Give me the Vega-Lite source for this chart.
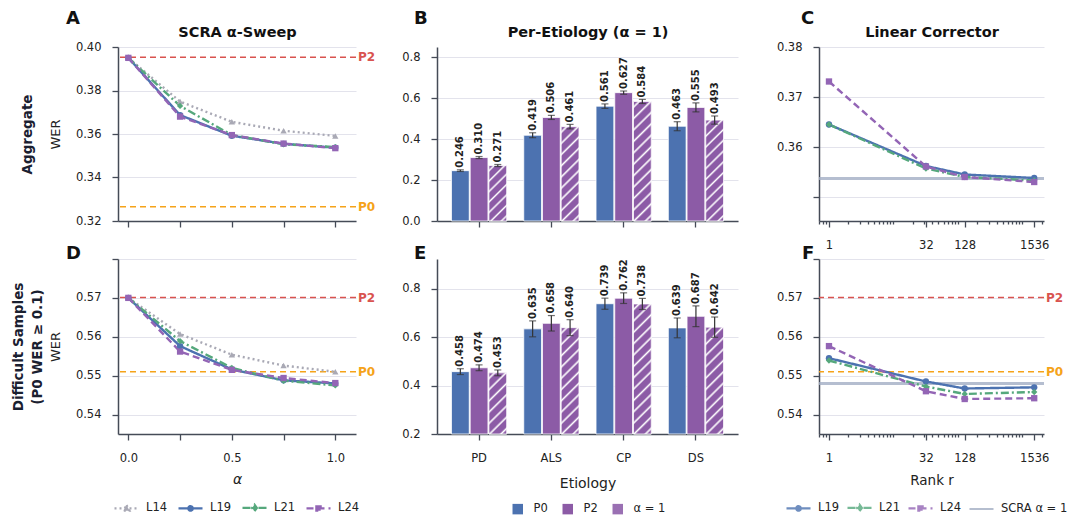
{
  "$schema": "https://vega.github.io/schema/vega-lite/v6.json",
  "background": "white",
  "padding": {"left": 11, "top": 10, "right": 2, "bottom": 0},
  "datasets": {
    "sweep": [
      {"group": "Aggregate", "series": "L14", "alpha": 0, "wer": 0.395},
      {"group": "Aggregate", "series": "L14", "alpha": 0.25, "wer": 0.3749},
      {"group": "Aggregate", "series": "L14", "alpha": 0.5, "wer": 0.3656},
      {"group": "Aggregate", "series": "L14", "alpha": 0.75, "wer": 0.3615},
      {"group": "Aggregate", "series": "L14", "alpha": 1, "wer": 0.3591},
      {"group": "Aggregate", "series": "L19", "alpha": 0, "wer": 0.395},
      {"group": "Aggregate", "series": "L19", "alpha": 0.25, "wer": 0.3687},
      {"group": "Aggregate", "series": "L19", "alpha": 0.5, "wer": 0.3592},
      {"group": "Aggregate", "series": "L19", "alpha": 0.75, "wer": 0.3555},
      {"group": "Aggregate", "series": "L19", "alpha": 1, "wer": 0.3537},
      {"group": "Aggregate", "series": "L21", "alpha": 0, "wer": 0.395},
      {"group": "Aggregate", "series": "L21", "alpha": 0.25, "wer": 0.3729},
      {"group": "Aggregate", "series": "L21", "alpha": 0.5, "wer": 0.3595},
      {"group": "Aggregate", "series": "L21", "alpha": 0.75, "wer": 0.3553},
      {"group": "Aggregate", "series": "L21", "alpha": 1, "wer": 0.354},
      {"group": "Aggregate", "series": "L24", "alpha": 0, "wer": 0.395},
      {"group": "Aggregate", "series": "L24", "alpha": 0.25, "wer": 0.368},
      {"group": "Aggregate", "series": "L24", "alpha": 0.5, "wer": 0.3595},
      {"group": "Aggregate", "series": "L24", "alpha": 0.75, "wer": 0.3556},
      {"group": "Aggregate", "series": "L24", "alpha": 1, "wer": 0.3535},
      {"group": "Difficult", "series": "L14", "alpha": 0, "wer": 0.570},
      {"group": "Difficult", "series": "L14", "alpha": 0.25, "wer": 0.5607},
      {"group": "Difficult", "series": "L14", "alpha": 0.5, "wer": 0.5554},
      {"group": "Difficult", "series": "L14", "alpha": 0.75, "wer": 0.5526},
      {"group": "Difficult", "series": "L14", "alpha": 1, "wer": 0.551},
      {"group": "Difficult", "series": "L19", "alpha": 0, "wer": 0.570},
      {"group": "Difficult", "series": "L19", "alpha": 0.25, "wer": 0.5576},
      {"group": "Difficult", "series": "L19", "alpha": 0.5, "wer": 0.5516},
      {"group": "Difficult", "series": "L19", "alpha": 0.75, "wer": 0.5488},
      {"group": "Difficult", "series": "L19", "alpha": 1, "wer": 0.548},
      {"group": "Difficult", "series": "L21", "alpha": 0, "wer": 0.570},
      {"group": "Difficult", "series": "L21", "alpha": 0.25, "wer": 0.5589},
      {"group": "Difficult", "series": "L21", "alpha": 0.5, "wer": 0.552},
      {"group": "Difficult", "series": "L21", "alpha": 0.75, "wer": 0.5487},
      {"group": "Difficult", "series": "L21", "alpha": 1, "wer": 0.5475},
      {"group": "Difficult", "series": "L24", "alpha": 0, "wer": 0.570},
      {"group": "Difficult", "series": "L24", "alpha": 0.25, "wer": 0.5562},
      {"group": "Difficult", "series": "L24", "alpha": 0.5, "wer": 0.5515},
      {"group": "Difficult", "series": "L24", "alpha": 0.75, "wer": 0.5494},
      {"group": "Difficult", "series": "L24", "alpha": 1, "wer": 0.5481}
    ],
    "rank": [
      {"group": "Aggregate", "series": "L19", "rank": 1, "wer": 0.3645},
      {"group": "Aggregate", "series": "L19", "rank": 32, "wer": 0.3562},
      {"group": "Aggregate", "series": "L19", "rank": 128, "wer": 0.3545},
      {"group": "Aggregate", "series": "L19", "rank": 1536, "wer": 0.3538},
      {"group": "Aggregate", "series": "L21", "rank": 1, "wer": 0.3645},
      {"group": "Aggregate", "series": "L21", "rank": 32, "wer": 0.3557},
      {"group": "Aggregate", "series": "L21", "rank": 128, "wer": 0.354},
      {"group": "Aggregate", "series": "L21", "rank": 1536, "wer": 0.3533},
      {"group": "Aggregate", "series": "L24", "rank": 1, "wer": 0.3731},
      {"group": "Aggregate", "series": "L24", "rank": 32, "wer": 0.3561},
      {"group": "Aggregate", "series": "L24", "rank": 128, "wer": 0.354},
      {"group": "Aggregate", "series": "L24", "rank": 1536, "wer": 0.353},
      {"group": "Difficult", "series": "L19", "rank": 1, "wer": 0.5545},
      {"group": "Difficult", "series": "L19", "rank": 32, "wer": 0.5485},
      {"group": "Difficult", "series": "L19", "rank": 128, "wer": 0.5467},
      {"group": "Difficult", "series": "L19", "rank": 1536, "wer": 0.547},
      {"group": "Difficult", "series": "L21", "rank": 1, "wer": 0.5539},
      {"group": "Difficult", "series": "L21", "rank": 32, "wer": 0.5472},
      {"group": "Difficult", "series": "L21", "rank": 128, "wer": 0.5453},
      {"group": "Difficult", "series": "L21", "rank": 1536, "wer": 0.5458},
      {"group": "Difficult", "series": "L24", "rank": 1, "wer": 0.5576},
      {"group": "Difficult", "series": "L24", "rank": 32, "wer": 0.546},
      {"group": "Difficult", "series": "L24", "rank": 128, "wer": 0.544},
      {"group": "Difficult", "series": "L24", "rank": 1536, "wer": 0.5442}
    ],
    "refs": [
      {"group": "Aggregate", "label": "P2", "wer": 0.3953},
      {"group": "Aggregate", "label": "P0", "wer": 0.3266},
      {"group": "Difficult", "label": "P2", "wer": 0.5701},
      {"group": "Difficult", "label": "P0", "wer": 0.551}
    ],
    "scra": [
      {"group": "Aggregate", "series": "SCRA α = 1", "wer": 0.3537},
      {"group": "Difficult", "series": "SCRA α = 1", "wer": 0.548}
    ],
    "etiology": [
      {"group": "Aggregate", "etiology": "PD", "cond": "P0", "wer": 0.246, "lo": 0.242, "hi": 0.250},
      {"group": "Aggregate", "etiology": "PD", "cond": "P2", "wer": 0.310, "lo": 0.305, "hi": 0.315},
      {"group": "Aggregate", "etiology": "PD", "cond": "α = 1", "wer": 0.271, "lo": 0.266, "hi": 0.276},
      {"group": "Aggregate", "etiology": "ALS", "cond": "P0", "wer": 0.419, "lo": 0.407, "hi": 0.431},
      {"group": "Aggregate", "etiology": "ALS", "cond": "P2", "wer": 0.506, "lo": 0.496, "hi": 0.516},
      {"group": "Aggregate", "etiology": "ALS", "cond": "α = 1", "wer": 0.461, "lo": 0.450, "hi": 0.472},
      {"group": "Aggregate", "etiology": "CP", "cond": "P0", "wer": 0.561, "lo": 0.550, "hi": 0.572},
      {"group": "Aggregate", "etiology": "CP", "cond": "P2", "wer": 0.627, "lo": 0.619, "hi": 0.635},
      {"group": "Aggregate", "etiology": "CP", "cond": "α = 1", "wer": 0.584, "lo": 0.574, "hi": 0.594},
      {"group": "Aggregate", "etiology": "DS", "cond": "P0", "wer": 0.463, "lo": 0.441, "hi": 0.485},
      {"group": "Aggregate", "etiology": "DS", "cond": "P2", "wer": 0.555, "lo": 0.533, "hi": 0.577},
      {"group": "Aggregate", "etiology": "DS", "cond": "α = 1", "wer": 0.493, "lo": 0.473, "hi": 0.513},
      {"group": "Difficult", "etiology": "PD", "cond": "P0", "wer": 0.458, "lo": 0.446, "hi": 0.470},
      {"group": "Difficult", "etiology": "PD", "cond": "P2", "wer": 0.474, "lo": 0.462, "hi": 0.486},
      {"group": "Difficult", "etiology": "PD", "cond": "α = 1", "wer": 0.453, "lo": 0.441, "hi": 0.465},
      {"group": "Difficult", "etiology": "ALS", "cond": "P0", "wer": 0.635, "lo": 0.602, "hi": 0.668},
      {"group": "Difficult", "etiology": "ALS", "cond": "P2", "wer": 0.658, "lo": 0.626, "hi": 0.690},
      {"group": "Difficult", "etiology": "ALS", "cond": "α = 1", "wer": 0.640, "lo": 0.607, "hi": 0.673},
      {"group": "Difficult", "etiology": "CP", "cond": "P0", "wer": 0.739, "lo": 0.716, "hi": 0.762},
      {"group": "Difficult", "etiology": "CP", "cond": "P2", "wer": 0.762, "lo": 0.740, "hi": 0.784},
      {"group": "Difficult", "etiology": "CP", "cond": "α = 1", "wer": 0.738, "lo": 0.715, "hi": 0.761},
      {"group": "Difficult", "etiology": "DS", "cond": "P0", "wer": 0.639, "lo": 0.598, "hi": 0.680},
      {"group": "Difficult", "etiology": "DS", "cond": "P2", "wer": 0.687, "lo": 0.644, "hi": 0.730},
      {"group": "Difficult", "etiology": "DS", "cond": "α = 1", "wer": 0.642, "lo": 0.600, "hi": 0.684}
    ]
  },
  "columns": 3,
  "spacing": {"row": 38, "column": 81},
  "bounds": "flush",
  "align": "each",
  "resolve": {
    "scale": {"stroke": "independent", "fill": "independent", "shape": "independent", "strokeDash": "independent", "strokeWidth": "independent"},
    "legend": {"stroke": "independent", "fill": "independent", "shape": "independent", "strokeDash": "independent", "strokeWidth": "independent"}
  },
  "concat": [
    {
      "width": 238, "height": 174,
      "title": {"text": "A", "dx": -52, "offset": -4},
      "resolve": {"axis": {"x": "independent", "y": "independent"}},
      "layer": [
        {
          "data": {"name": "refs"},
          "transform": [{"filter": "datum.group === 'Aggregate'"}],
          "mark": {"type": "rule", "strokeDash": [6, 4], "strokeWidth": 1.5},
          "encoding": {
            "y": {"field": "wer", "type": "quantitative", "scale": {"domain": [0.32, 0.4], "nice": false, "zero": false},
              "axis": {"values": [0.32, 0.34, 0.36, 0.38, 0.4], "format": ".2f", "title": "WER", "titlePadding": 13}},
            "color": {"condition": {"test": "datum.label === 'P2'", "value": "#d9534f"}, "value": "#f5a31a"}
          }
        },
        {
          "data": {"name": "refs"},
          "transform": [{"filter": "datum.group === 'Aggregate'"}],
          "mark": {"type": "text", "align": "left", "baseline": "middle", "dx": 2, "fontSize": 12, "fontWeight": "bold"},
          "encoding": {
            "x": {"value": "width"},
            "y": {"field": "wer", "type": "quantitative", "scale": {"domain": [0.32, 0.4], "nice": false, "zero": false}, "axis": null},
            "text": {"field": "label"},
            "color": {"condition": {"test": "datum.label === 'P2'", "value": "#d9534f"}, "value": "#f5a31a"}
          }
        },
        {
          "data": {"name": "sweep"},
          "transform": [{"filter": "datum.group === 'Aggregate'"}],
          "mark": {"type": "line", "strokeWidth": 2.4},
          "encoding": {
            "x": {"field": "alpha", "type": "quantitative", "scale": {"domain": [-0.05, 1.1], "nice": false, "zero": false},
              "axis": {"values": [0, 0.25, 0.5, 0.75, 1], "labels": false, "title": null}},
            "y": {"field": "wer", "type": "quantitative", "scale": {"domain": [0.32, 0.4], "nice": false, "zero": false},
              "axis": {"orient": "left", "offset": 84, "title": "Aggregate", "titleFontWeight": "bold", "titleFontSize": 13.5, "titleColor": "#1a2030", "titlePadding": 0, "labels": false, "ticks": false, "domain": false, "grid": false}},
            "stroke": {"field": "series", "type": "nominal", "scale": {"domain": ["L14", "L19", "L21", "L24"], "range": ["#a9a9b5", "#4c72b0", "#55a87c", "#9365b5"]}, "legend": null},
            "strokeDash": {"field": "series", "type": "nominal", "scale": {"domain": ["L14", "L19", "L21", "L24"], "range": [[2, 3], [1, 0], [8, 3, 2, 3], [7, 4]]}, "legend": null}
          }
        },
        {
          "data": {"name": "sweep"},
          "transform": [{"filter": "datum.group === 'Aggregate'"}],
          "mark": {"type": "point", "filled": true, "size": 40, "opacity": 1},
          "encoding": {
            "x": {"field": "alpha", "type": "quantitative", "scale": {"domain": [-0.05, 1.1], "nice": false, "zero": false},
              "axis": {"orient": "top", "title": "SCRA α-Sweep", "titleFontSize": 14.5, "titleFontWeight": "bold", "titleColor": "#111", "titlePadding": 8, "labels": false, "ticks": false, "domain": false, "grid": false}},
            "y": {"field": "wer", "type": "quantitative", "scale": {"domain": [0.32, 0.4], "nice": false, "zero": false}, "axis": null},
            "fill": {"field": "series", "type": "nominal", "scale": {"domain": ["L14", "L19", "L21", "L24"], "range": ["#a9a9b5", "#4c72b0", "#55a87c", "#9365b5"]}, "legend": null},
            "shape": {"condition": [{"test": "datum.series === 'L14'", "value": "triangle-up"}, {"test": "datum.series === 'L19'", "value": "circle"}, {"test": "datum.series === 'L21'", "value": "diamond"}], "value": "square"}
          }
        }
      ]
    },
    {
      "width": 301, "height": 174,
      "title": {"text": "B", "dx": -23, "offset": -4},
      "data": {"name": "etiology"},
      "transform": [{"filter": "datum.group === 'Aggregate'"}],
      "resolve": {"axis": {"x": "independent", "y": "independent"}},
      "layer": [
        {
          "mark": {"type": "bar", "stroke": "#ffffff", "strokeWidth": 0.8},
          "encoding": {
            "x": {"field": "etiology", "type": "nominal", "scale": {"domain": ["PD", "ALS", "CP", "DS"], "paddingInner": 0.236, "paddingOuter": 0.2},
              "axis": {"labels": false, "title": null, "grid": false}},
            "xOffset": {"field": "cond", "type": "nominal", "scale": {"domain": ["P0", "P2", "α = 1"], "paddingInner": 0.05}},
            "y": {"field": "wer", "type": "quantitative", "scale": {"domain": [0, 0.85], "nice": false, "zero": false},
              "axis": {"values": [0, 0.2, 0.4, 0.6, 0.8], "format": ".1f", "title": null}},
            "fill": {"field": "cond", "type": "nominal", "scale": {"domain": ["P0", "P2", "α = 1"], "range": ["#4c72b0", "#8c5ba6", "#8c5ba6"]}, "legend": null}
          }
        },
        {
          "transform": [{"filter": "datum.cond === 'α = 1'"}],
          "mark": {"type": "bar", "stroke": "#ffffff", "strokeWidth": 0.8},
          "encoding": {
            "x": {"field": "etiology", "type": "nominal", "axis": null},
            "xOffset": {"field": "cond", "type": "nominal"},
            "y": {"field": "wer", "type": "quantitative", "axis": null},
            "fill": {
              "condition": [
                {"test": "datum.etiology === 'PD'", "value": {"gradient": "linear", "x1": 0, "y1": 0, "x2": 0.379, "y2": 1.197, "stops": [{"offset":0.0429,"color":"#8c5ba6"},{"offset":0.0714,"color":"#fff"},{"offset":0.1,"color":"#8c5ba6"},{"offset":0.1857,"color":"#8c5ba6"},{"offset":0.2143,"color":"#fff"},{"offset":0.2429,"color":"#8c5ba6"},{"offset":0.3286,"color":"#8c5ba6"},{"offset":0.3571,"color":"#fff"},{"offset":0.3857,"color":"#8c5ba6"},{"offset":0.4714,"color":"#8c5ba6"},{"offset":0.5,"color":"#fff"},{"offset":0.5286,"color":"#8c5ba6"},{"offset":0.6143,"color":"#8c5ba6"},{"offset":0.6429,"color":"#fff"},{"offset":0.6714,"color":"#8c5ba6"},{"offset":0.7571,"color":"#8c5ba6"},{"offset":0.7857,"color":"#fff"},{"offset":0.8143,"color":"#8c5ba6"},{"offset":0.9,"color":"#8c5ba6"},{"offset":0.9286,"color":"#fff"},{"offset":0.9571,"color":"#8c5ba6"}]}},
                {"test": "datum.etiology === 'ALS'", "value": {"gradient": "linear", "x1": 0, "y1": 0, "x2": 0.2135, "y2": 1.1465, "stops": [{"offset":0.03,"color":"#8c5ba6"},{"offset":0.05,"color":"#fff"},{"offset":0.07,"color":"#8c5ba6"},{"offset":0.13,"color":"#8c5ba6"},{"offset":0.15,"color":"#fff"},{"offset":0.17,"color":"#8c5ba6"},{"offset":0.23,"color":"#8c5ba6"},{"offset":0.25,"color":"#fff"},{"offset":0.27,"color":"#8c5ba6"},{"offset":0.33,"color":"#8c5ba6"},{"offset":0.35,"color":"#fff"},{"offset":0.37,"color":"#8c5ba6"},{"offset":0.43,"color":"#8c5ba6"},{"offset":0.45,"color":"#fff"},{"offset":0.47,"color":"#8c5ba6"},{"offset":0.53,"color":"#8c5ba6"},{"offset":0.55,"color":"#fff"},{"offset":0.57,"color":"#8c5ba6"},{"offset":0.63,"color":"#8c5ba6"},{"offset":0.65,"color":"#fff"},{"offset":0.67,"color":"#8c5ba6"},{"offset":0.73,"color":"#8c5ba6"},{"offset":0.75,"color":"#fff"},{"offset":0.77,"color":"#8c5ba6"},{"offset":0.83,"color":"#8c5ba6"},{"offset":0.85,"color":"#fff"},{"offset":0.87,"color":"#8c5ba6"},{"offset":0.93,"color":"#8c5ba6"},{"offset":0.95,"color":"#fff"},{"offset":0.97,"color":"#8c5ba6"}]}},
                {"test": "datum.etiology === 'CP'", "value": {"gradient": "linear", "x1": 0, "y1": 0, "x2": 0.165, "y2": 1.1228, "stops": [{"offset":0.025,"color":"#8c5ba6"},{"offset":0.0417,"color":"#fff"},{"offset":0.0583,"color":"#8c5ba6"},{"offset":0.1083,"color":"#8c5ba6"},{"offset":0.125,"color":"#fff"},{"offset":0.1417,"color":"#8c5ba6"},{"offset":0.1917,"color":"#8c5ba6"},{"offset":0.2083,"color":"#fff"},{"offset":0.225,"color":"#8c5ba6"},{"offset":0.275,"color":"#8c5ba6"},{"offset":0.2917,"color":"#fff"},{"offset":0.3083,"color":"#8c5ba6"},{"offset":0.3583,"color":"#8c5ba6"},{"offset":0.375,"color":"#fff"},{"offset":0.3917,"color":"#8c5ba6"},{"offset":0.4417,"color":"#8c5ba6"},{"offset":0.4583,"color":"#fff"},{"offset":0.475,"color":"#8c5ba6"},{"offset":0.525,"color":"#8c5ba6"},{"offset":0.5417,"color":"#fff"},{"offset":0.5583,"color":"#8c5ba6"},{"offset":0.6083,"color":"#8c5ba6"},{"offset":0.625,"color":"#fff"},{"offset":0.6417,"color":"#8c5ba6"},{"offset":0.6917,"color":"#8c5ba6"},{"offset":0.7083,"color":"#fff"},{"offset":0.725,"color":"#8c5ba6"},{"offset":0.775,"color":"#8c5ba6"},{"offset":0.7917,"color":"#fff"},{"offset":0.8083,"color":"#8c5ba6"},{"offset":0.8583,"color":"#8c5ba6"},{"offset":0.875,"color":"#fff"},{"offset":0.8917,"color":"#8c5ba6"},{"offset":0.9417,"color":"#8c5ba6"},{"offset":0.9583,"color":"#fff"},{"offset":0.975,"color":"#8c5ba6"}]}}
              ],
              "value": {"gradient": "linear", "x1": 0, "y1": 0, "x2": 0.198, "y2": 1.1395, "stops": [{"offset":0.0273,"color":"#8c5ba6"},{"offset":0.0455,"color":"#fff"},{"offset":0.0636,"color":"#8c5ba6"},{"offset":0.1182,"color":"#8c5ba6"},{"offset":0.1364,"color":"#fff"},{"offset":0.1545,"color":"#8c5ba6"},{"offset":0.2091,"color":"#8c5ba6"},{"offset":0.2273,"color":"#fff"},{"offset":0.2455,"color":"#8c5ba6"},{"offset":0.3,"color":"#8c5ba6"},{"offset":0.3182,"color":"#fff"},{"offset":0.3364,"color":"#8c5ba6"},{"offset":0.3909,"color":"#8c5ba6"},{"offset":0.4091,"color":"#fff"},{"offset":0.4273,"color":"#8c5ba6"},{"offset":0.4818,"color":"#8c5ba6"},{"offset":0.5,"color":"#fff"},{"offset":0.5182,"color":"#8c5ba6"},{"offset":0.5727,"color":"#8c5ba6"},{"offset":0.5909,"color":"#fff"},{"offset":0.6091,"color":"#8c5ba6"},{"offset":0.6636,"color":"#8c5ba6"},{"offset":0.6818,"color":"#fff"},{"offset":0.7,"color":"#8c5ba6"},{"offset":0.7545,"color":"#8c5ba6"},{"offset":0.7727,"color":"#fff"},{"offset":0.7909,"color":"#8c5ba6"},{"offset":0.8455,"color":"#8c5ba6"},{"offset":0.8636,"color":"#fff"},{"offset":0.8818,"color":"#8c5ba6"},{"offset":0.9364,"color":"#8c5ba6"},{"offset":0.9545,"color":"#fff"},{"offset":0.9727,"color":"#8c5ba6"}]}
            }
          }
        },
        {
          "mark": {"type": "rule", "color": "#333333", "strokeWidth": 1.2},
          "encoding": {
            "x": {"field": "etiology", "type": "nominal", "axis": null},
            "xOffset": {"field": "cond", "type": "nominal"},
            "y": {"field": "lo", "type": "quantitative", "axis": null},
            "y2": {"field": "hi"}
          }
        },
        {
          "mark": {"type": "tick", "color": "#333333", "thickness": 1.2, "size": 7},
          "encoding": {
            "x": {"field": "etiology", "type": "nominal", "axis": null},
            "xOffset": {"field": "cond", "type": "nominal"},
            "y": {"field": "lo", "type": "quantitative", "axis": null}
          }
        },
        {
          "mark": {"type": "tick", "color": "#333333", "thickness": 1.2, "size": 7},
          "encoding": {
            "x": {"field": "etiology", "type": "nominal", "axis": null},
            "xOffset": {"field": "cond", "type": "nominal"},
            "y": {"field": "hi", "type": "quantitative", "axis": null}
          }
        },
        {
          "mark": {"type": "text", "angle": 270, "align": "left", "baseline": "middle", "dx": 2, "fontSize": 10, "fontWeight": "bold", "color": "#222222"},
          "encoding": {
            "x": {"field": "etiology", "type": "nominal",
              "axis": {"orient": "top", "title": "Per-Etiology (α = 1)", "titleFontSize": 14.5, "titleFontWeight": "bold", "titleColor": "#111", "titlePadding": 8, "labels": false, "ticks": false, "domain": false, "grid": false}},
            "xOffset": {"field": "cond", "type": "nominal"},
            "y": {"field": "hi", "type": "quantitative", "axis": null},
            "text": {"field": "wer", "type": "quantitative", "format": ".3f"}
          }
        }
      ]
    },
    {
      "width": 225, "height": 174,
      "title": {"text": "C", "dx": -18, "offset": -4},
      "resolve": {"axis": {"x": "independent", "y": "independent"}},
      "layer": [
        {
          "data": {"name": "scra"},
          "transform": [{"filter": "datum.group === 'Aggregate'"}],
          "mark": {"type": "rule", "strokeWidth": 3, "opacity": 0.8},
          "encoding": {
            "y": {"field": "wer", "type": "quantitative", "scale": {"domain": [0.3452, 0.38], "nice": false, "zero": false},
              "axis": {"values": [0.35, 0.36, 0.37, 0.38], "labelExpr": "datum.value < 0.355 ? '' : format(datum.value, '.2f')", "title": null}},
            "stroke": {"field": "series", "type": "nominal", "scale": {"domain": ["L19", "L21", "L24", "SCRA α = 1"], "range": ["#4c72b0", "#55a87c", "#9365b5", "#a3aec4"]}, "legend": null}
          }
        },
        {
          "data": {"name": "rank"},
          "transform": [{"filter": "datum.group === 'Aggregate'"}],
          "mark": {"type": "line", "strokeWidth": 2.4},
          "encoding": {
            "x": {"field": "rank", "type": "quantitative", "scale": {"type": "log", "domain": [0.7, 2180], "nice": false, "zero": false},
              "axis": {"values": [0.7, 0.8, 0.9, 1, 2, 3, 4, 5, 6, 7, 8, 9, 10, 20, 30, 32, 40, 50, 60, 70, 80, 90, 100, 128, 200, 300, 400, 500, 600, 700, 800, 900, 1000, 1536, 2000],
                "labelExpr": "indexof([1, 32, 128, 1536], datum.value) >= 0 ? format(datum.value, 'd') : ''",
                "tickSize": {"condition": {"test": "indexof([1, 32, 128, 1536], datum.value) >= 0", "value": 6}, "value": 3},
                "labelOverlap": false, "labelFlush": false, "title": null}},
            "y": {"field": "wer", "type": "quantitative", "scale": {"domain": [0.3452, 0.38], "nice": false, "zero": false}, "axis": null},
            "stroke": {"field": "series", "type": "nominal", "scale": {"domain": ["L19", "L21", "L24", "SCRA α = 1"], "range": ["#4c72b0", "#55a87c", "#9365b5", "#a3aec4"]}, "legend": null},
            "strokeDash": {"field": "series", "type": "nominal", "scale": {"domain": ["L19", "L21", "L24", "SCRA α = 1"], "range": [[1, 0], [8, 3, 2, 3], [7, 4], [1, 0]]}, "legend": null}
          }
        },
        {
          "data": {"name": "rank"},
          "transform": [{"filter": "datum.group === 'Aggregate'"}],
          "mark": {"type": "point", "filled": true, "size": 40, "opacity": 1},
          "encoding": {
            "x": {"field": "rank", "type": "quantitative", "scale": {"type": "log", "domain": [0.7, 2180], "nice": false, "zero": false},
              "axis": {"orient": "top", "title": "Linear Corrector", "titleFontSize": 14.5, "titleFontWeight": "bold", "titleColor": "#111", "titlePadding": 8, "labels": false, "ticks": false, "domain": false, "grid": false}},
            "y": {"field": "wer", "type": "quantitative", "scale": {"domain": [0.3452, 0.38], "nice": false, "zero": false}, "axis": null},
            "fill": {"field": "series", "type": "nominal", "scale": {"domain": ["L19", "L21", "L24", "SCRA α = 1"], "range": ["#4c72b0", "#55a87c", "#9365b5", "#a3aec4"]}, "legend": null},
            "shape": {"condition": [{"test": "datum.series === 'L19'", "value": "circle"}, {"test": "datum.series === 'L21'", "value": "diamond"}], "value": "square"}
          }
        }
      ]
    },
    {
      "width": 238, "height": 175,
      "title": {"text": "D", "dx": -52, "offset": -5},
      "resolve": {"axis": {"x": "independent", "y": "independent"}},
      "layer": [
        {
          "data": {"name": "refs"},
          "transform": [{"filter": "datum.group === 'Difficult'"}],
          "mark": {"type": "rule", "strokeDash": [6, 4], "strokeWidth": 1.5},
          "encoding": {
            "y": {"field": "wer", "type": "quantitative", "scale": {"domain": [0.535, 0.58], "nice": false, "zero": false},
              "axis": {"values": [0.54, 0.55, 0.56, 0.57, 0.58], "labelExpr": "datum.value > 0.575 ? '' : format(datum.value, '.2f')", "title": "WER", "titlePadding": 13}},
            "color": {"condition": {"test": "datum.label === 'P2'", "value": "#d9534f"}, "value": "#f5a31a"}
          }
        },
        {
          "data": {"name": "refs"},
          "transform": [{"filter": "datum.group === 'Difficult'"}],
          "mark": {"type": "text", "align": "left", "baseline": "middle", "dx": 2, "fontSize": 12, "fontWeight": "bold"},
          "encoding": {
            "x": {"value": "width"},
            "y": {"field": "wer", "type": "quantitative", "scale": {"domain": [0.535, 0.58], "nice": false, "zero": false}, "axis": null},
            "text": {"field": "label"},
            "color": {"condition": {"test": "datum.label === 'P2'", "value": "#d9534f"}, "value": "#f5a31a"}
          }
        },
        {
          "data": {"name": "sweep"},
          "transform": [{"filter": "datum.group === 'Difficult'"}],
          "mark": {"type": "line", "strokeWidth": 2.4},
          "encoding": {
            "x": {"field": "alpha", "type": "quantitative", "scale": {"domain": [-0.05, 1.1], "nice": false, "zero": false},
              "axis": {"values": [0, 0.25, 0.5, 0.75, 1], "labelExpr": "datum.value === 0 || datum.value === 0.5 || datum.value === 1 ? format(datum.value, '.1f') : ''", "title": "α", "titleFontStyle": "italic", "titleFontSize": 14, "titlePadding": 9}},
            "y": {"field": "wer", "type": "quantitative", "scale": {"domain": [0.535, 0.58], "nice": false, "zero": false},
              "axis": {"orient": "left", "offset": 74, "title": ["Difficult Samples", "(P0 WER ≥ 0.1)"], "titleLineHeight": 19, "titleFontWeight": "bold", "titleFontSize": 13.5, "titleColor": "#1a2030", "titlePadding": 0, "labels": false, "ticks": false, "domain": false, "grid": false}},
            "stroke": {"field": "series", "type": "nominal", "scale": {"domain": ["L14", "L19", "L21", "L24"], "range": ["#a9a9b5", "#4c72b0", "#55a87c", "#9365b5"]},
              "legend": {"orient": "none", "legendX": -5, "legendY": 235, "direction": "horizontal", "title": null, "symbolSize": 576, "symbolStrokeWidth": 2.2, "labelOffset": 6, "columnPadding": 6}},
            "strokeDash": {"field": "series", "type": "nominal", "scale": {"domain": ["L14", "L19", "L21", "L24"], "range": [[2, 3], [1, 0], [8, 3, 2, 3], [7, 4]]},
              "legend": {"orient": "none", "legendX": -5, "legendY": 235, "direction": "horizontal", "title": null, "symbolSize": 576, "symbolStrokeWidth": 2.2, "labelOffset": 6, "columnPadding": 6}}
          }
        },
        {
          "data": {"name": "sweep"},
          "transform": [{"filter": "datum.group === 'Difficult'"}],
          "mark": {"type": "point", "filled": true, "size": 40, "opacity": 1},
          "encoding": {
            "x": {"field": "alpha", "type": "quantitative", "scale": {"domain": [-0.05, 1.1], "nice": false, "zero": false}, "axis": null},
            "y": {"field": "wer", "type": "quantitative", "scale": {"domain": [0.535, 0.58], "nice": false, "zero": false}, "axis": null},
            "fill": {"field": "series", "type": "nominal", "scale": {"domain": ["L14", "L19", "L21", "L24"], "range": ["#a9a9b5", "#4c72b0", "#55a87c", "#9365b5"]},
              "legend": {"orient": "none", "legendX": -5, "legendY": 235, "direction": "horizontal", "title": null, "symbolSize": 576, "symbolStrokeWidth": 2.2, "labelOffset": 6, "columnPadding": 6}},
            "shape": {"condition": [{"test": "datum.series === 'L14'", "value": "triangle-up"}, {"test": "datum.series === 'L19'", "value": "circle"}, {"test": "datum.series === 'L21'", "value": "diamond"}], "value": "square"}
          }
        },
        {
          "data": {"name": "sweep"},
          "transform": [{"filter": "false"}],
          "mark": {"type": "point", "filled": true},
          "encoding": {
            "x": {"field": "alpha", "type": "quantitative", "axis": null},
            "y": {"field": "wer", "type": "quantitative", "axis": null},
            "shape": {"field": "series", "type": "nominal",
              "scale": {"domain": ["L14", "L19", "L21", "L24"], "range": ["M-1,0H1M0,-0.28L0.25,0.18H-0.25Z", "M-1,0H1M0.19,0A0.19,0.19,0,1,1,-0.19,0A0.19,0.19,0,1,1,0.19,0Z", "M-1,0H1M0,-0.27L0.2,0L0,0.27L-0.2,0Z", "M-1,0H1M-0.18,-0.18H0.18V0.18H-0.18Z"]},
              "legend": {"orient": "none", "legendX": -5, "legendY": 235, "direction": "horizontal", "title": null, "symbolSize": 576, "symbolStrokeWidth": 2.2, "labelOffset": 6, "columnPadding": 6}}
          }
        }
      ]
    },
    {
      "width": 301, "height": 175,
      "title": {"text": "E", "dx": -23, "offset": -4},
      "data": {"name": "etiology"},
      "transform": [{"filter": "datum.group === 'Difficult'"}],
      "resolve": {"axis": {"x": "independent", "y": "independent"}},
      "layer": [
        {
          "mark": {"type": "bar", "stroke": "#ffffff", "strokeWidth": 0.8},
          "encoding": {
            "x": {"field": "etiology", "type": "nominal", "scale": {"domain": ["PD", "ALS", "CP", "DS"], "paddingInner": 0.236, "paddingOuter": 0.2},
              "axis": {"title": "Etiology", "labelAngle": 0, "grid": false, "titleFontSize": 14, "titlePadding": 13}},
            "xOffset": {"field": "cond", "type": "nominal", "scale": {"domain": ["P0", "P2", "α = 1"], "paddingInner": 0.05}},
            "y": {"field": "wer", "type": "quantitative", "scale": {"domain": [0.2, 0.924], "nice": false, "zero": false, "clamp": true},
              "axis": {"values": [0.2, 0.4, 0.6, 0.8], "format": ".1f", "title": null}},
            "fill": {"field": "cond", "type": "nominal",
              "scale": {"domain": ["P0", "P2", "α = 1"], "range": ["#4c72b0", "#8c5ba6", "#9a70b3"]},
              "legend": {"orient": "none", "legendX": 75, "legendY": 244, "direction": "horizontal", "title": null, "symbolType": "square", "symbolSize": 110, "symbolStrokeWidth": 0, "labelOffset": 10, "columnPadding": 14}}
          }
        },
        {
          "transform": [{"filter": "datum.cond === 'α = 1'"}],
          "mark": {"type": "bar", "stroke": "#ffffff", "strokeWidth": 0.8},
          "encoding": {
            "x": {"field": "etiology", "type": "nominal", "axis": null},
            "xOffset": {"field": "cond", "type": "nominal"},
            "y": {"field": "wer", "type": "quantitative", "axis": null},
            "fill": {
              "condition": [
                {"test": "datum.etiology === 'PD'", "value": {"gradient": "linear", "x1": 0, "y1": 0, "x2": 0.342, "y2": 1.189, "stops": [{"offset":0.0429,"color":"#8c5ba6"},{"offset":0.0714,"color":"#fff"},{"offset":0.1,"color":"#8c5ba6"},{"offset":0.1857,"color":"#8c5ba6"},{"offset":0.2143,"color":"#fff"},{"offset":0.2429,"color":"#8c5ba6"},{"offset":0.3286,"color":"#8c5ba6"},{"offset":0.3571,"color":"#fff"},{"offset":0.3857,"color":"#8c5ba6"},{"offset":0.4714,"color":"#8c5ba6"},{"offset":0.5,"color":"#fff"},{"offset":0.5286,"color":"#8c5ba6"},{"offset":0.6143,"color":"#8c5ba6"},{"offset":0.6429,"color":"#fff"},{"offset":0.6714,"color":"#8c5ba6"},{"offset":0.7571,"color":"#8c5ba6"},{"offset":0.7857,"color":"#fff"},{"offset":0.8143,"color":"#8c5ba6"},{"offset":0.9,"color":"#8c5ba6"},{"offset":0.9286,"color":"#fff"},{"offset":0.9571,"color":"#8c5ba6"}]}},
                {"test": "datum.etiology === 'CP'", "value": {"gradient": "linear", "x1": 0, "y1": 0, "x2": 0.151, "y2": 1.115, "stops": [{"offset":0.0231,"color":"#8c5ba6"},{"offset":0.0385,"color":"#fff"},{"offset":0.0539,"color":"#8c5ba6"},{"offset":0.1,"color":"#8c5ba6"},{"offset":0.1154,"color":"#fff"},{"offset":0.1308,"color":"#8c5ba6"},{"offset":0.1769,"color":"#8c5ba6"},{"offset":0.1923,"color":"#fff"},{"offset":0.2077,"color":"#8c5ba6"},{"offset":0.2538,"color":"#8c5ba6"},{"offset":0.2692,"color":"#fff"},{"offset":0.2846,"color":"#8c5ba6"},{"offset":0.3308,"color":"#8c5ba6"},{"offset":0.3462,"color":"#fff"},{"offset":0.3616,"color":"#8c5ba6"},{"offset":0.4077,"color":"#8c5ba6"},{"offset":0.4231,"color":"#fff"},{"offset":0.4385,"color":"#8c5ba6"},{"offset":0.4846,"color":"#8c5ba6"},{"offset":0.5,"color":"#fff"},{"offset":0.5154,"color":"#8c5ba6"},{"offset":0.5615,"color":"#8c5ba6"},{"offset":0.5769,"color":"#fff"},{"offset":0.5923,"color":"#8c5ba6"},{"offset":0.6384,"color":"#8c5ba6"},{"offset":0.6538,"color":"#fff"},{"offset":0.6692,"color":"#8c5ba6"},{"offset":0.7154,"color":"#8c5ba6"},{"offset":0.7308,"color":"#fff"},{"offset":0.7462,"color":"#8c5ba6"},{"offset":0.7923,"color":"#8c5ba6"},{"offset":0.8077,"color":"#fff"},{"offset":0.8231,"color":"#8c5ba6"},{"offset":0.8692,"color":"#8c5ba6"},{"offset":0.8846,"color":"#fff"},{"offset":0.9,"color":"#8c5ba6"},{"offset":0.9461,"color":"#8c5ba6"},{"offset":0.9615,"color":"#fff"},{"offset":0.9769,"color":"#8c5ba6"}]}}
              ],
              "value": {"gradient": "linear", "x1": 0, "y1": 0, "x2": 0.188, "y2": 1.134, "stops": [{"offset":0.0273,"color":"#8c5ba6"},{"offset":0.0455,"color":"#fff"},{"offset":0.0636,"color":"#8c5ba6"},{"offset":0.1182,"color":"#8c5ba6"},{"offset":0.1364,"color":"#fff"},{"offset":0.1545,"color":"#8c5ba6"},{"offset":0.2091,"color":"#8c5ba6"},{"offset":0.2273,"color":"#fff"},{"offset":0.2455,"color":"#8c5ba6"},{"offset":0.3,"color":"#8c5ba6"},{"offset":0.3182,"color":"#fff"},{"offset":0.3364,"color":"#8c5ba6"},{"offset":0.3909,"color":"#8c5ba6"},{"offset":0.4091,"color":"#fff"},{"offset":0.4273,"color":"#8c5ba6"},{"offset":0.4818,"color":"#8c5ba6"},{"offset":0.5,"color":"#fff"},{"offset":0.5182,"color":"#8c5ba6"},{"offset":0.5727,"color":"#8c5ba6"},{"offset":0.5909,"color":"#fff"},{"offset":0.6091,"color":"#8c5ba6"},{"offset":0.6636,"color":"#8c5ba6"},{"offset":0.6818,"color":"#fff"},{"offset":0.7,"color":"#8c5ba6"},{"offset":0.7545,"color":"#8c5ba6"},{"offset":0.7727,"color":"#fff"},{"offset":0.7909,"color":"#8c5ba6"},{"offset":0.8455,"color":"#8c5ba6"},{"offset":0.8636,"color":"#fff"},{"offset":0.8818,"color":"#8c5ba6"},{"offset":0.9364,"color":"#8c5ba6"},{"offset":0.9545,"color":"#fff"},{"offset":0.9727,"color":"#8c5ba6"}]}
            }
          }
        },
        {
          "mark": {"type": "rule", "color": "#333333", "strokeWidth": 1.2},
          "encoding": {
            "x": {"field": "etiology", "type": "nominal", "axis": null},
            "xOffset": {"field": "cond", "type": "nominal"},
            "y": {"field": "lo", "type": "quantitative", "axis": null},
            "y2": {"field": "hi"}
          }
        },
        {
          "mark": {"type": "tick", "color": "#333333", "thickness": 1.2, "size": 7},
          "encoding": {
            "x": {"field": "etiology", "type": "nominal", "axis": null},
            "xOffset": {"field": "cond", "type": "nominal"},
            "y": {"field": "lo", "type": "quantitative", "axis": null}
          }
        },
        {
          "mark": {"type": "tick", "color": "#333333", "thickness": 1.2, "size": 7},
          "encoding": {
            "x": {"field": "etiology", "type": "nominal", "axis": null},
            "xOffset": {"field": "cond", "type": "nominal"},
            "y": {"field": "hi", "type": "quantitative", "axis": null}
          }
        },
        {
          "mark": {"type": "text", "angle": 270, "align": "left", "baseline": "middle", "dx": 2, "fontSize": 10, "fontWeight": "bold", "color": "#222222"},
          "encoding": {
            "x": {"field": "etiology", "type": "nominal", "axis": null},
            "xOffset": {"field": "cond", "type": "nominal"},
            "y": {"field": "hi", "type": "quantitative", "axis": null},
            "text": {"field": "wer", "type": "quantitative", "format": ".3f"}
          }
        }
      ]
    },
    {
      "width": 225, "height": 175,
      "title": {"text": "F", "dx": -17, "offset": -5},
      "resolve": {"axis": {"x": "independent", "y": "independent"}},
      "layer": [
        {
          "data": {"name": "refs"},
          "transform": [{"filter": "datum.group === 'Difficult'"}],
          "mark": {"type": "rule", "strokeDash": [6, 4], "strokeWidth": 1.5},
          "encoding": {
            "y": {"field": "wer", "type": "quantitative", "scale": {"domain": [0.535, 0.58], "nice": false, "zero": false},
              "axis": {"values": [0.54, 0.55, 0.56, 0.57, 0.58], "labelExpr": "datum.value > 0.575 ? '' : format(datum.value, '.2f')", "title": null}},
            "color": {"condition": {"test": "datum.label === 'P2'", "value": "#d9534f"}, "value": "#f5a31a"}
          }
        },
        {
          "data": {"name": "refs"},
          "transform": [{"filter": "datum.group === 'Difficult'"}],
          "mark": {"type": "text", "align": "left", "baseline": "middle", "dx": 2, "fontSize": 12, "fontWeight": "bold"},
          "encoding": {
            "x": {"value": "width"},
            "y": {"field": "wer", "type": "quantitative", "scale": {"domain": [0.535, 0.58], "nice": false, "zero": false}, "axis": null},
            "text": {"field": "label"},
            "color": {"condition": {"test": "datum.label === 'P2'", "value": "#d9534f"}, "value": "#f5a31a"}
          }
        },
        {
          "data": {"name": "scra"},
          "transform": [{"filter": "datum.group === 'Difficult'"}],
          "mark": {"type": "rule", "strokeWidth": 3, "opacity": 0.8},
          "encoding": {
            "y": {"field": "wer", "type": "quantitative", "scale": {"domain": [0.535, 0.58], "nice": false, "zero": false}, "axis": null},
            "stroke": {"field": "series", "type": "nominal", "scale": {"domain": ["L19", "L21", "L24", "SCRA α = 1"], "range": ["#4c72b0", "#55a87c", "#9365b5", "#a3aec4"]},
              "legend": {"orient": "none", "legendX": -34, "legendY": 235, "direction": "horizontal", "title": null, "symbolSize": 576, "symbolStrokeWidth": 2.2, "labelOffset": 6, "columnPadding": 3}}
          }
        },
        {
          "data": {"name": "rank"},
          "transform": [{"filter": "datum.group === 'Difficult'"}],
          "mark": {"type": "line", "strokeWidth": 2.4},
          "encoding": {
            "x": {"field": "rank", "type": "quantitative", "scale": {"type": "log", "domain": [0.7, 2180], "nice": false, "zero": false},
              "axis": {"values": [0.7, 0.8, 0.9, 1, 2, 3, 4, 5, 6, 7, 8, 9, 10, 20, 30, 32, 40, 50, 60, 70, 80, 90, 100, 128, 200, 300, 400, 500, 600, 700, 800, 900, 1000, 1536, 2000],
                "labelExpr": "indexof([1, 32, 128, 1536], datum.value) >= 0 ? format(datum.value, 'd') : ''",
                "tickSize": {"condition": {"test": "indexof([1, 32, 128, 1536], datum.value) >= 0", "value": 6}, "value": 3},
                "labelOverlap": false, "labelFlush": false, "title": "Rank r", "titleFontSize": 13.5, "titlePadding": 10}},
            "y": {"field": "wer", "type": "quantitative", "scale": {"domain": [0.535, 0.58], "nice": false, "zero": false}, "axis": null},
            "stroke": {"field": "series", "type": "nominal", "scale": {"domain": ["L19", "L21", "L24", "SCRA α = 1"], "range": ["#4c72b0", "#55a87c", "#9365b5", "#a3aec4"]},
              "legend": {"orient": "none", "legendX": -34, "legendY": 235, "direction": "horizontal", "title": null, "symbolSize": 576, "symbolStrokeWidth": 2.2, "labelOffset": 6, "columnPadding": 3}},
            "strokeDash": {"field": "series", "type": "nominal", "scale": {"domain": ["L19", "L21", "L24", "SCRA α = 1"], "range": [[1, 0], [8, 3, 2, 3], [7, 4], [1, 0]]},
              "legend": {"orient": "none", "legendX": -34, "legendY": 235, "direction": "horizontal", "title": null, "symbolSize": 576, "symbolStrokeWidth": 2.2, "labelOffset": 6, "columnPadding": 3}}
          }
        },
        {
          "data": {"name": "rank"},
          "transform": [{"filter": "datum.group === 'Difficult'"}],
          "mark": {"type": "point", "filled": true, "size": 40, "opacity": 1},
          "encoding": {
            "x": {"field": "rank", "type": "quantitative", "scale": {"type": "log", "domain": [0.7, 2180], "nice": false, "zero": false}, "axis": null},
            "y": {"field": "wer", "type": "quantitative", "scale": {"domain": [0.535, 0.58], "nice": false, "zero": false}, "axis": null},
            "fill": {"field": "series", "type": "nominal", "scale": {"domain": ["L19", "L21", "L24", "SCRA α = 1"], "range": ["#4c72b0", "#55a87c", "#9365b5", "#a3aec4"]},
              "legend": {"orient": "none", "legendX": -34, "legendY": 235, "direction": "horizontal", "title": null, "symbolSize": 576, "symbolStrokeWidth": 2.2, "labelOffset": 6, "columnPadding": 3}},
            "shape": {"condition": [{"test": "datum.series === 'L19'", "value": "circle"}, {"test": "datum.series === 'L21'", "value": "diamond"}], "value": "square"}
          }
        },
        {
          "data": {"name": "rank"},
          "transform": [{"filter": "false"}],
          "mark": {"type": "point", "filled": true},
          "encoding": {
            "x": {"field": "rank", "type": "quantitative", "axis": null},
            "y": {"field": "wer", "type": "quantitative", "axis": null},
            "shape": {"field": "series", "type": "nominal",
              "scale": {"domain": ["L19", "L21", "L24", "SCRA α = 1"], "range": ["M-1,0H1M0.19,0A0.19,0.19,0,1,1,-0.19,0A0.19,0.19,0,1,1,0.19,0Z", "M-1,0H1M0,-0.27L0.2,0L0,0.27L-0.2,0Z", "M-1,0H1M-0.18,-0.18H0.18V0.18H-0.18Z", "M-1,0H1"]},
              "legend": {"orient": "none", "legendX": -34, "legendY": 235, "direction": "horizontal", "title": null, "symbolSize": 576, "symbolStrokeWidth": 2.2, "labelOffset": 6, "columnPadding": 3}},
            "strokeWidth": {"field": "series", "type": "nominal",
              "scale": {"domain": ["L19", "L21", "L24", "SCRA α = 1"], "range": [2.2, 2.2, 2.2, 3.5]},
              "legend": {"orient": "none", "legendX": -34, "legendY": 235, "direction": "horizontal", "title": null, "symbolSize": 576, "symbolStrokeWidth": 2.2, "labelOffset": 6, "columnPadding": 3}}
          }
        }
      ]
    }
  ],
  "config": {
    "font": "DejaVu Sans",
    "view": {"stroke": null},
    "title": {"font": "DejaVu Sans", "fontSize": 18, "fontWeight": "bold", "color": "#111111", "anchor": "start", "frame": "group", "offset": 0, "baseline": "alphabetic"},
    "axis": {
      "labelFont": "DejaVu Sans", "labelFontSize": 11.5, "labelColor": "#222222",
      "titleFont": "DejaVu Sans", "titleFontSize": 13, "titleFontWeight": "normal", "titleColor": "#222222",
      "domainColor": "#454b57", "domainWidth": 1.5, "tickColor": "#454b57", "tickWidth": 1.3, "tickSize": 6,
      "gridColor": "#e3e3ec", "gridWidth": 1
    },
    "axisX": {"grid": false, "labelPadding": 12},
    "axisY": {"grid": true, "labelPadding": 11},
    "legend": {"labelFont": "DejaVu Sans", "labelFontSize": 11.5, "labelColor": "#222222", "padding": 0}
  }
}
